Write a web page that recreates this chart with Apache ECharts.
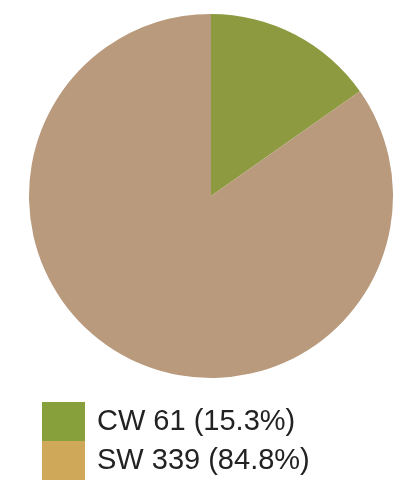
<!DOCTYPE html>
<html>
<head>
<meta charset="utf-8">
<style>
  html, body { margin: 0; padding: 0; background: #ffffff; }
  #chart { width: 404px; height: 480px; }
</style>
<script src="https://cdn.jsdelivr.net/npm/echarts@6/dist/echarts.min.js"></script>
</head>
<body>
<div id="chart"></div>
<script>
// Wall types and counts
const categories = ['CW', 'SW'];
const counts = [61, 339];
const sliceColors = ['#8d9a40', '#b99a7c'];
const legendColors = ['#87a03c', '#d0a85a'];

const total = counts.reduce((a, b) => a + b, 0);
const pct = v => (Math.round(v * 1000 / total) / 10).toFixed(1);

const chart = echarts.init(document.getElementById('chart'), null, { renderer: 'canvas' });

chart.setOption({
  animation: false,
  legend: {
    orient: 'vertical',
    left: 42,
    top: 402,
    padding: 0,
    itemWidth: 43,
    itemHeight: 39,
    itemGap: 0,
    icon: 'rect',
    selectedMode: false,
    data: categories.map((c, i) => ({ name: c, itemStyle: { color: legendColors[i] } })),
    formatter: name => {
      const i = categories.indexOf(name);
      return name + ' ' + counts[i] + ' (' + pct(counts[i]) + '%)';
    },
    textStyle: {
      fontFamily: 'Liberation Sans, Arial, sans-serif',
      fontSize: 29,
      lineHeight: 30,
      color: '#222222',
      padding: [0, 0, 0, 7]
    }
  },
  series: [{
    type: 'pie',
    center: [211, 196],
    radius: 182,
    startAngle: 90,
    clockwise: true,
    label: { show: false },
    labelLine: { show: false },
    emphasis: { disabled: true },
    itemStyle: { borderWidth: 0 },
    data: categories.map((c, i) => ({
      name: c,
      value: counts[i],
      itemStyle: { color: sliceColors[i] }
    }))
  }]
});
</script>
</body>
</html>
